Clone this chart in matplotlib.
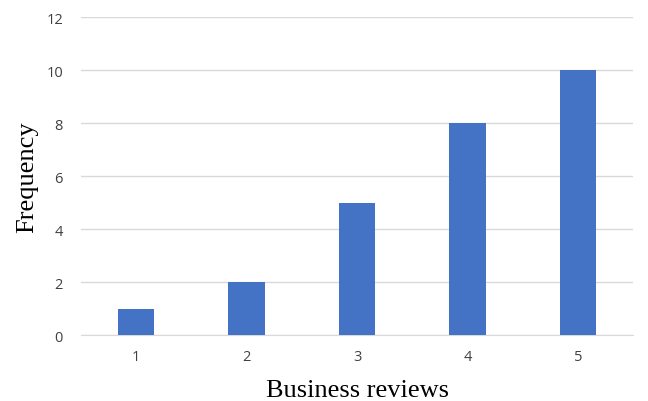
import matplotlib.pyplot as plt

# data
reviews = ['1', '2', '3', '4', '5']
frequency = [1, 2, 5, 8, 10]

fig = plt.figure(figsize=(6.48, 4.02), dpi=100)
ax = fig.add_axes([0.125, 0.164, 0.852, 0.791])

pos = list(range(1, len(reviews) + 1))
ax.bar(pos, frequency, width=0.33, color='#4472C4', zorder=3)

ax.set_xlim(0.5, 5.5)
ax.set_ylim(0, 12)
ax.set_yticks(range(0, 13, 2))
ax.set_xticks(pos)
ax.set_xticklabels(reviews)

ax.yaxis.grid(True, color='#D9D9D9', linewidth=1)
for s in ['top', 'right', 'left']:
    ax.spines[s].set_visible(False)
ax.spines['bottom'].set_color('#D9D9D9')
ax.tick_params(axis='both', length=0, colors='#404040', labelsize=10.5, pad=13)
ax.tick_params(axis='x', pad=10)
for lab in ax.get_xticklabels() + ax.get_yticklabels():
    lab.set_family('Open Sans')

ax.set_xlabel('Business reviews', family='Liberation Serif', fontsize=19, labelpad=11)
ax.set_ylabel('Frequency', family='Liberation Serif', fontsize=19, labelpad=6)

plt.savefig('out.png', dpi=100)
